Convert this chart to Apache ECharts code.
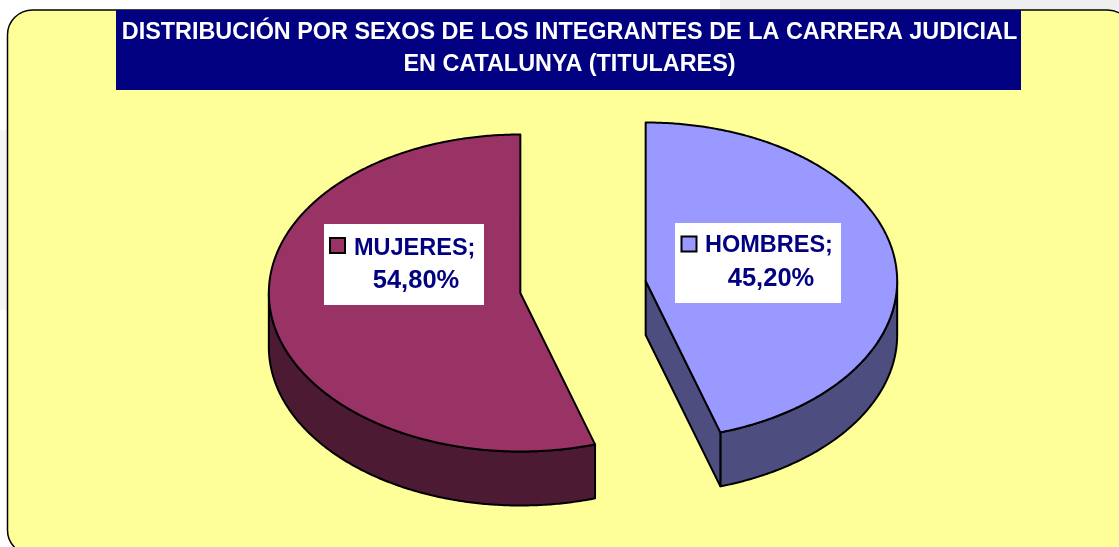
<!DOCTYPE html>
<html><head><meta charset="utf-8">
<style>html,body{margin:0;padding:0;background:#fff}#c{width:1119px;height:547px}</style>
<script src="https://cdn.jsdelivr.net/npm/echarts@6/dist/echarts.min.js"></script>
</head><body><div id="c"></div>
<script>
var titleLines = ['DISTRIBUCIÓN POR SEXOS DE LOS INTEGRANTES DE LA CARRERA JUDICIAL', 'EN CATALUNYA (TITULARES)'];
var categories = ['HOMBRES', 'MUJERES'];
var values = [45.2, 54.8];
var valueLabels = ['45,20%', '54,80%'];

var topColors = ['#9999ff', '#993366'];
var sideColors = ['#4d4d80', '#4d1a33'];
var NAVY = '#000080';
var FONT = '"Liberation Sans", Arial, sans-serif';
var PIE = {cx: 583, cy: 287, rx: 251.5, ry: 158.5, depth: 54, explode: 0.252};
var LABELS = [
  {box: [675, 223, 166, 80], key: [681.5, 236.5], name: [705, 258], val: [771, 292]},
  {box: [324, 224, 160, 81], key: [330, 238], name: [354, 261], val: [416, 293.5]}
];

var total = values.reduce(function (a, b) { return a + b; }, 0);
var starts = values.map(function (v, i) {
  return values.slice(0, i).reduce(function (a, b) { return a + b; }, 0) / total * 360;
});

function rad(d) { return d * Math.PI / 180; }
function pt(c, deg, r, dy) {
  return [c[0] + PIE.rx * r * Math.sin(rad(deg)), c[1] - PIE.ry * r * Math.cos(rad(deg)) + (dy || 0)];
}
function arc(c, a, b, dy) {
  var out = [], n = Math.max(2, Math.ceil(Math.abs(b - a) * 2));
  for (var i = 0; i <= n; i++) out.push(pt(c, a + (b - a) * i / n, 1, dy));
  return out;
}
function lineStyle(fill) {
  return {fill: fill, stroke: '#000', lineWidth: 2, lineJoin: 'round'};
}

function renderItem(params, api) {
  var i = params.dataIndex;
  var a0 = starts[i], sweep = api.value(0) / total * 360, a1 = a0 + sweep;
  var c = pt([PIE.cx, PIE.cy], (a0 + a1) / 2, PIE.explode);
  var kids = [];
  var s0 = Math.max(a0, 90), s1 = Math.min(a1, 270);
  if (s1 > s0) {
    kids.push({type: 'polygon', shape: {points: arc(c, s0, s1, 0).concat(arc(c, s1, s0, PIE.depth))},
      style: lineStyle(sideColors[i])});
  }
  if (a1 > 0 && a1 < 180) {
    kids.push({type: 'polygon', shape: {points: [c, pt(c, a1, 1), pt(c, a1, 1, PIE.depth), [c[0], c[1] + PIE.depth]]},
      style: lineStyle(sideColors[i])});
  }
  kids.push({type: 'polygon', shape: {points: [c].concat(arc(c, a0, a1, 0))}, style: lineStyle(topColors[i])});
  var L = LABELS[i];
  kids.push({type: 'rect', shape: {x: L.box[0], y: L.box[1], width: L.box[2], height: L.box[3]}, style: {fill: '#fff'}});
  kids.push({type: 'rect', shape: {x: L.key[0], y: L.key[1], width: 15, height: 15},
    style: {fill: topColors[i], stroke: '#000', lineWidth: 2}});
  kids.push({type: 'text', x: L.name[0], y: L.name[1], style: {text: categories[i] + ';', fill: NAVY,
    font: 'bold 23.5px ' + FONT, textAlign: 'left', textVerticalAlign: 'bottom'}});
  kids.push({type: 'text', x: L.val[0], y: L.val[1], style: {text: valueLabels[i], fill: NAVY,
    font: 'bold 25.5px ' + FONT, textAlign: 'center', textVerticalAlign: 'bottom'}});
  return {type: 'group', children: kids};
}

var chart = echarts.init(document.getElementById('c'));
chart.setOption({
  animation: false,
  backgroundColor: '#ffffff',
  title: {
    text: titleLines.join('\n'), left: 564.5, top: 12, textAlign: 'center',
    textStyle: {color: '#fff', fontFamily: FONT, fontWeight: 'bold', fontSize: 23.4, lineHeight: 32}
  },
  graphic: [
    {type: 'rect', z: -3, shape: {x: 720, y: 0, width: 399, height: 10}, style: {fill: '#efefef'}},
    {type: 'rect', z: -3, shape: {x: 0, y: 130, width: 7, height: 180}, style: {fill: '#f5f5f5'}},
    {type: 'rect', z: -2, shape: {x: 7.5, y: 10, width: 1125, height: 545, r: 25},
      style: {fill: '#ffff99', stroke: '#000', lineWidth: 1.5}},
    {type: 'rect', z: -1, shape: {x: 116, y: 10, width: 905, height: 80}, style: {fill: NAVY}}
  ],
  series: [{
    type: 'custom', coordinateSystem: 'none', renderItem: renderItem,
    data: categories.map(function (n, i) { return {name: n, value: [values[i]]}; })
  }]
});
</script></body></html>
